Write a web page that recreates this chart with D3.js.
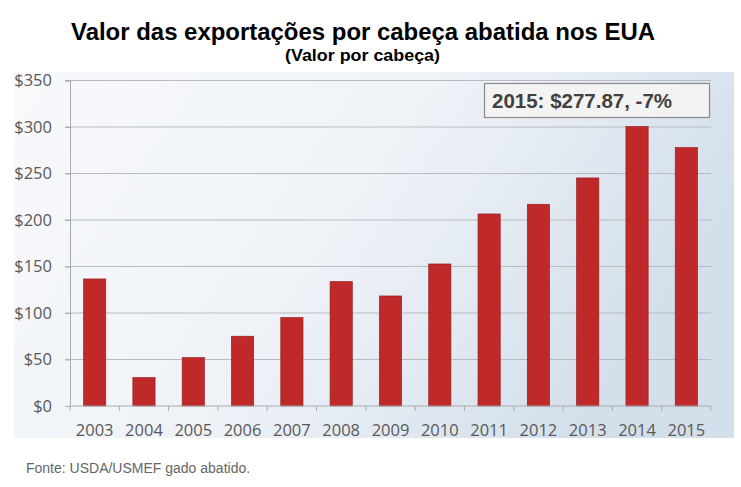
<!DOCTYPE html>
<html><head><meta charset="utf-8">
<script src="https://cdn.jsdelivr.net/npm/d3@7"></script>
<style>body{margin:0;background:#fff;} svg{display:block;}</style>
</head><body>
<script>
const years = ["2003","2004","2005","2006","2007","2008","2009","2010","2011","2012","2013","2014","2015"];
const values = [136.6, 30.5, 52, 75, 95, 133.7, 118.3, 152.7, 206.5, 216.9, 245.2, 300.4, 277.87];
const yTicks = [0, 50, 100, 150, 200, 250, 300, 350];
const titleText = "Valor das exportações por cabeça abatida nos EUA";
const subtitleText = "(Valor por cabeça)";
const noteText = "2015: $277.87, -7%";
const sourceText = "Fonte: USDA/USMEF gado abatido.";

const W = 741, H = 487;
const svg = d3.select("body").append("svg").attr("width", W).attr("height", H);
const defs = svg.append("defs");
const grad = defs.append("linearGradient").attr("id","bg").attr("x1","0").attr("y1","0").attr("x2","1").attr("y2","0.35");
grad.append("stop").attr("offset","0").attr("stop-color","#f8f9fb");
grad.append("stop").attr("offset","0.55").attr("stop-color","#eef2f7");
grad.append("stop").attr("offset","1").attr("stop-color","#d3dfeb");

svg.append("rect").attr("x",14).attr("y",72).attr("width",720).attr("height",366).attr("fill","url(#bg)");

const m = {left:70, right:711, top:80.5, bottom:406};
const x = d3.scaleBand().domain(years).range([m.left, m.right]).paddingInner(0.55).paddingOuter(0.275);
const y = d3.scaleLinear().domain([0,350]).range([m.bottom, m.top]);

// gridlines
svg.append("g").selectAll("line").data(yTicks.filter(d=>d>0)).join("line")
  .attr("x1", m.left-5).attr("x2", m.right).attr("y1", d=>y(d)).attr("y2", d=>y(d))
  .attr("stroke","#b8bcc0").attr("stroke-width",1.2);

// y axis
const yAxis = svg.append("g").attr("transform",`translate(${m.left},0)`)
  .call(d3.axisLeft(y).tickValues(yTicks).tickSize(5).tickPadding(13).tickFormat(d=>"$"+d));
yAxis.select(".domain").attr("stroke","#a8acb0");
yAxis.selectAll(".tick line").attr("stroke","#a8acb0");
yAxis.selectAll("text").attr("font-family","'Open Sans', sans-serif").attr("font-size",16.5).attr("fill","#595959");

// bars
svg.append("g").selectAll("rect").data(values).join("rect")
  .attr("x",(d,i)=>x(years[i])).attr("width",x.bandwidth())
  .attr("y",d=>y(d)).attr("height",d=>y(0)-y(d))
  .attr("fill","#c0292a").attr("stroke","#9a1e1f").attr("stroke-width",0.7);

// x axis
const xb = d3.scaleLinear().domain([0, years.length]).range([m.left, m.right]);
const xAxis = svg.append("g").attr("transform",`translate(0,${m.bottom})`);
xAxis.append("line").attr("x1",m.left).attr("x2",m.right).attr("stroke","#a8acb0").attr("stroke-width",1.2);
xAxis.selectAll("line.tk").data(d3.range(years.length+1)).join("line").attr("class","tk")
  .attr("x1",d=>xb(d)).attr("x2",d=>xb(d)).attr("y1",0).attr("y2",5).attr("stroke","#a8acb0");
xAxis.selectAll("text").data(years).join("text")
  .attr("x",d=>x(d)+x.bandwidth()/2).attr("y",30).attr("text-anchor","middle")
  .attr("font-family","'Open Sans', sans-serif").attr("font-size",16.5).attr("fill","#595959").text(d=>d);

// annotation
svg.append("rect").attr("x",484.5).attr("y",83.5).attr("width",225).attr("height",34)
  .attr("fill","#f3f3f3").attr("stroke","#8a8a8a").attr("stroke-width",1.2);
svg.append("text").attr("x",492).attr("y",107.5).attr("font-family","'Liberation Sans', Arial, sans-serif")
  .attr("font-weight","bold").attr("font-size",20.5).attr("fill","#404040").text(noteText);

// titles
svg.append("text").attr("x",363).attr("y",39.5).attr("text-anchor","middle")
  .attr("font-family","'Liberation Sans', Arial, sans-serif").attr("font-weight","bold").attr("font-size",23)
  .attr("textLength",584).attr("lengthAdjust","spacingAndGlyphs").attr("fill","#000").text(titleText);
svg.append("text").attr("x",362.5).attr("y",61).attr("text-anchor","middle")
  .attr("font-family","'Liberation Sans', Arial, sans-serif").attr("font-weight","bold").attr("font-size",17)
  .attr("textLength",155).attr("lengthAdjust","spacingAndGlyphs").attr("fill","#000").text(subtitleText);

svg.append("text").attr("x",26).attr("y",473)
  .attr("font-family","'Liberation Sans', Arial, sans-serif").attr("font-size",14).attr("fill","#666").text(sourceText);
</script>
</body></html>
